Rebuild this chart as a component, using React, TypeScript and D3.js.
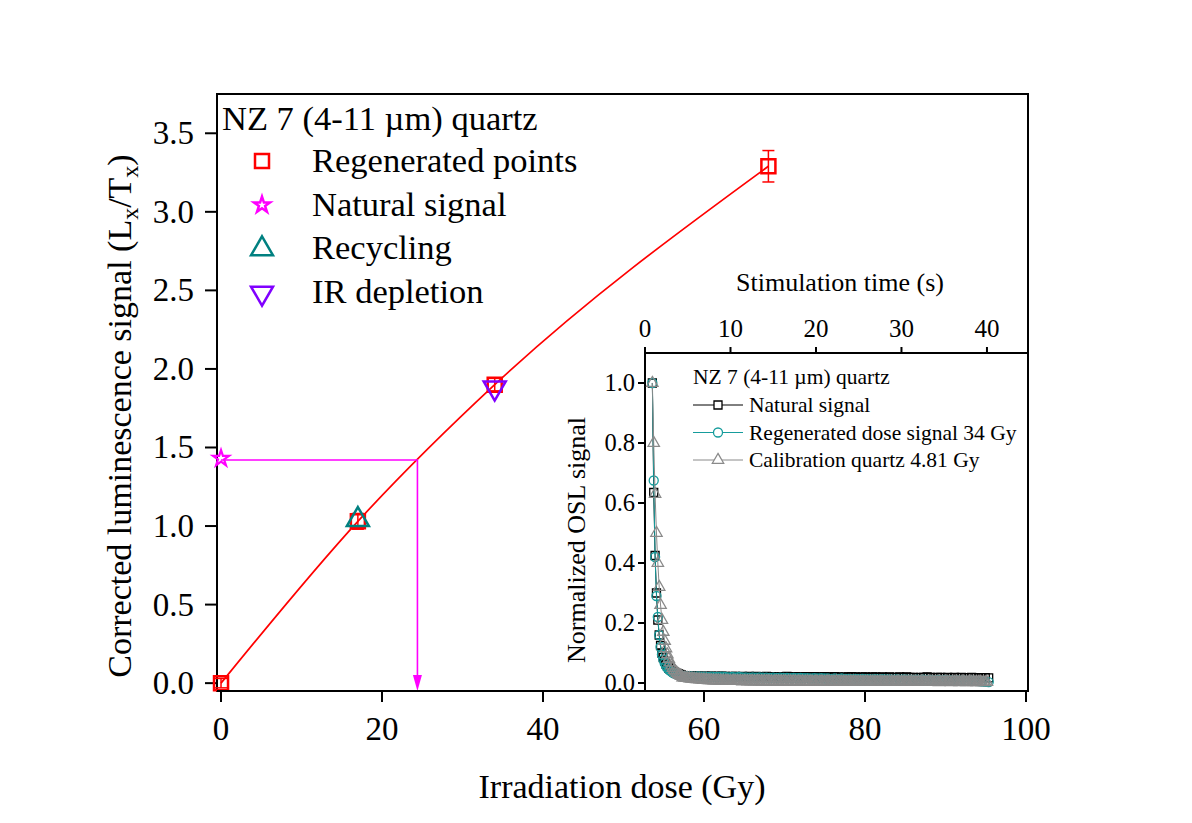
import React from 'react';
import * as d3 from 'd3';

const W = 1192;
const H = 823;
const FONT = '"Liberation Serif", "Times New Roman", serif';

// dose response (main panel)
const regenDose = [0, 17, 34, 68];
const regenSignal = [0, 1.03, 1.9, 3.29];
const regenError = [0.03, 0.05, 0.04, 0.1];
const naturalDose = [0];
const naturalSignal = [1.43];
const recyclingDose = [17];
const recyclingSignal = [1.04];
const irDose = [34];
const irSignal = [1.88];
const equivalentDose = 24.4;
const naturalLevel = 1.42;
const doseTicks = [0, 20, 40, 60, 80, 100];
const signalTicks = [0, 0.5, 1, 1.5, 2, 2.5, 3, 3.5];

// OSL decay curves (inset), first channels every 0.16 s, tails read coarser
const headTime = d3.range(0.86, 4.3, 0.16);
const tailTime = d3.range(4.6, 40.3, 0.4);
const calibTailTime = d3.range(4.4, 40.1, 0.2);
const naturalHead = [1.0, 0.635, 0.425, 0.3, 0.21, 0.16, 0.125, 0.1, 0.085, 0.072, 0.063, 0.056, 0.05, 0.046, 0.042, 0.039, 0.036, 0.034, 0.032, 0.03, 0.029, 0.028];
const regenHead = [1.0, 0.675, 0.42, 0.29, 0.22, 0.16, 0.12, 0.095, 0.078, 0.066, 0.057, 0.05, 0.045, 0.041, 0.037, 0.034, 0.032, 0.03, 0.028, 0.027, 0.026, 0.025];
const calibHead = [1.0, 0.8, 0.63, 0.5, 0.4, 0.32, 0.26, 0.21, 0.17, 0.14, 0.115, 0.095, 0.08, 0.068, 0.058, 0.05, 0.043, 0.038, 0.033, 0.029, 0.026, 0.023];
// tail values in thousandths
const naturalTail = [
  24, 23, 24, 23, 23, 22, 23, 22, 23, 22, 22, 23, 22, 21, 22, 22, 21, 22, 21, 22,
  21, 22, 21, 21, 22, 21, 21, 20, 21, 21, 22, 21, 20, 21, 21, 20, 21, 20, 21, 20,
  20, 21, 20, 20, 21, 20, 19, 20, 20, 21, 20, 19, 20, 20, 19, 20, 20, 19, 20, 19,
  20, 19, 19, 20, 19, 20, 19, 19, 18, 19, 19, 20, 19, 18, 19, 19, 18, 19, 18, 19,
  18, 19, 18, 18, 19, 18, 17, 18, 18, 17,
];
const regenTail = [
  23, 22, 22, 21, 22, 21, 21, 20, 21, 20, 20, 21, 20, 19, 20, 19, 20, 19, 19, 18,
  19, 18, 19, 18, 18, 17, 18, 17, 18, 17, 17, 16, 17, 16, 17, 16, 16, 15, 16, 15,
  16, 15, 15, 14, 15, 14, 15, 14, 14, 13, 14, 13, 14, 13, 13, 12, 13, 12, 13, 12,
  12, 11, 12, 11, 12, 11, 11, 10, 11, 10, 11, 10, 10, 9, 10, 9, 10, 9, 9, 8,
  9, 8, 8, 7, 8, 7, 6, 5, 4, 3,
];
const calibTail = [
  18, 17, 16, 16, 15, 14, 14, 13, 12, 12, 11, 11, 10, 10, 10, 9, 9, 9, 8, 8,
  8, 8, 7, 7, 7, 7, 7, 6, 6, 6, 7, 6, 6, 6, 6, 5, 6, 6, 5, 6,
  5, 6, 5, 5, 6, 5, 5, 5, 6, 5, 5, 5, 5, 4, 5, 5, 5, 5, 4, 5,
  5, 4, 5, 5, 4, 5, 5, 4, 5, 4, 5, 4, 4, 5, 4, 5, 4, 4, 5, 4,
  4, 5, 4, 4, 4, 5, 4, 4, 4, 4, 5, 4, 4, 4, 4, 4, 3, 4, 4, 4,
  4, 4, 3, 4, 4, 4, 3, 4, 4, 3, 4, 4, 3, 4, 3, 4, 4, 3, 4, 3,
  3, 4, 3, 4, 3, 3, 4, 3, 3, 4, 3, 3, 3, 4, 3, 3, 3, 3, 4, 3,
  3, 3, 3, 3, 4, 3, 3, 3, 3, 3, 2, 3, 3, 3, 3, 3, 3, 2, 3, 3,
  3, 3, 2, 3, 3, 3, 2, 3, 3, 3, 2, 3, 2, 3, 3, 2, 3, 2, 3,
];
const timeTicks = [0, 10, 20, 30, 40];
const oslTicks = [0, 0.2, 0.4, 0.6, 0.8, 1.0];

const x = d3.scaleLinear().domain([-0.5, 100.25]).range([217, 1028]);
const y = d3.scaleLinear().domain([-0.05, 3.75]).range([691, 94]);
const tx = d3.scaleLinear().domain([0, 44.8]).range([645, 1028]);
const ty = d3.scaleLinear().domain([-0.0267, 1.1]).range([691, 353]);

const sym = (type: any, size: number) => d3.symbol().type(type).size(size)() as string;
const bigSquare = sym(d3.symbolSquare, 196);
const bigTriangle = sym(d3.symbolTriangle, 210);
const bigStar = sym(d3.symbolStar, 80);
const smSquare = sym(d3.symbolSquare, 64);
const smCircle = sym(d3.symbolCircle, 64);
const smTriangle = sym(d3.symbolTriangle, 56);

const RED = '#ff0000';
const MAGENTA = '#ff00ff';
const TEAL = '#008080';
const VIOLET = '#8000ff';
const INSET_TEAL = '#169c9c';
const GRAY = '#8a8a8a';

const decay = (head: number[], times: number[], tail: number[]) =>
  headTime.map((t, i) => [t, head[i]]).concat(times.map((t, i) => [t, tail[i] / 1000]));

const insetSeries = [
  { name: 'Natural signal', data: decay(naturalHead, tailTime, naturalTail), color: '#000000', marker: smSquare },
  { name: 'Regenerated dose signal 34 Gy', data: decay(regenHead, tailTime, regenTail), color: INSET_TEAL, marker: smCircle },
  { name: 'Calibration quartz 4.81 Gy', data: decay(calibHead, calibTailTime, calibTail), color: GRAY, marker: smTriangle },
];

const mainLegend = [
  { name: 'Regenerated points', path: bigSquare, color: RED, flip: false },
  { name: 'Natural signal', path: bigStar, color: MAGENTA, flip: false },
  { name: 'Recycling', path: bigTriangle, color: TEAL, flip: false },
  { name: 'IR depletion', path: bigTriangle, color: VIOLET, flip: true },
];

const fitLine = d3
  .line<number>()
  .x((d) => x(regenDose[d]))
  .y((d) => y(regenSignal[d]))
  .curve(d3.curveMonotoneX);

const decayLine = d3
  .line<number[]>()
  .x((d) => tx(d[0]))
  .y((d) => ty(d[1]));

export default function App() {
  return (
    <svg
      width={W}
      height={H}
      style={{ position: 'absolute', left: 0, top: 0, background: '#fff' }}
      fontFamily={FONT}
    >
      <rect width={W} height={H} fill="#fff" />

      {/* main frame and axes */}
      <rect x={217} y={94} width={811} height={597} fill="none" stroke="#000" strokeWidth={2} />
      {doseTicks.map((d) => (
        <g key={'xt' + d}>
          <line x1={x(d)} x2={x(d)} y1={691} y2={702} stroke="#000" strokeWidth={2} />
          <text x={x(d)} y={740} fontSize={33} textAnchor="middle">{d}</text>
        </g>
      ))}
      {signalTicks.map((d) => (
        <g key={'yt' + d}>
          <line x1={205} x2={217} y1={y(d)} y2={y(d)} stroke="#000" strokeWidth={2} />
          <text x={194} y={y(d) + 11} fontSize={33} textAnchor="end">{d.toFixed(1)}</text>
        </g>
      ))}
      <text x={622} y={798} fontSize={34} textAnchor="middle">Irradiation dose (Gy)</text>
      <text transform="translate(131,416) rotate(-90)" fontSize={34} textAnchor="middle">
        Corrected luminescence signal (L
        <tspan fontSize={24} dy={7}>x</tspan>
        <tspan dy={-7}>/T</tspan>
        <tspan fontSize={24} dy={7}>x</tspan>
        <tspan dy={-7}>)</tspan>
      </text>

      {/* fit and equivalent dose construction */}
      <path d={fitLine(d3.range(regenDose.length)) as string} fill="none" stroke={RED} strokeWidth={1.7} />
      <polyline
        points={`${x(0)},${y(naturalLevel)} ${x(equivalentDose)},${y(naturalLevel)} ${x(equivalentDose)},676`}
        fill="none"
        stroke={MAGENTA}
        strokeWidth={1.6}
      />
      <polygon
        points={`${x(equivalentDose) - 4.5},675 ${x(equivalentDose) + 4.5},675 ${x(equivalentDose)},691`}
        fill={MAGENTA}
      />

      {regenDose.map((d, i) => (
        <g key={'eb' + i} stroke={RED} strokeWidth={1.5}>
          <line x1={x(d)} x2={x(d)} y1={y(regenSignal[i] - regenError[i])} y2={y(regenSignal[i] + regenError[i])} />
          <line x1={x(d) - 6} x2={x(d) + 6} y1={y(regenSignal[i] - regenError[i])} y2={y(regenSignal[i] - regenError[i])} />
          <line x1={x(d) - 6} x2={x(d) + 6} y1={y(regenSignal[i] + regenError[i])} y2={y(regenSignal[i] + regenError[i])} />
        </g>
      ))}
      {regenDose.map((d, i) => (
        <path key={'rg' + i} d={bigSquare} transform={`translate(${x(d)},${y(regenSignal[i])})`} fill="none" stroke={RED} strokeWidth={2.5} />
      ))}
      {naturalDose.map((d, i) => (
        <path key={'nt' + i} d={bigStar} transform={`translate(${x(d)},${y(naturalSignal[i])})`} fill="none" stroke={MAGENTA} strokeWidth={2.2} />
      ))}
      {recyclingDose.map((d, i) => (
        <path key={'rc' + i} d={bigTriangle} transform={`translate(${x(d)},${y(recyclingSignal[i])})`} fill="none" stroke={TEAL} strokeWidth={2.5} />
      ))}
      {irDose.map((d, i) => (
        <path key={'ir' + i} d={bigTriangle} transform={`translate(${x(d)},${y(irSignal[i])}) rotate(180)`} fill="none" stroke={VIOLET} strokeWidth={2.5} />
      ))}

      {/* main legend */}
      <text x={222} y={130} fontSize={34.5}>NZ 7 (4-11 µm) quartz</text>
      {mainLegend.map((l, i) => (
        <g key={'ml' + i}>
          <path
            d={l.path}
            transform={`translate(262,${161 + i * 44}) ${l.flip ? 'rotate(180)' : ''}`}
            fill="none"
            stroke={l.color}
            strokeWidth={2.5}
          />
          <text x={312} y={172 + i * 43.5} fontSize={34.5}>{l.name}</text>
        </g>
      ))}

      {/* inset */}
      <rect x={645} y={353} width={383} height={338} fill="#fff" />
      <line x1={645} x2={1028} y1={353} y2={353} stroke="#000" strokeWidth={2} />
      <line x1={645} x2={645} y1={353} y2={691} stroke="#000" strokeWidth={2} />
      <line x1={1028} x2={1028} y1={94} y2={691} stroke="#000" strokeWidth={2} />
      <line x1={217} x2={1028} y1={691} y2={691} stroke="#000" strokeWidth={2} />
      {timeTicks.map((d) => (
        <g key={'tt' + d}>
          <line x1={tx(d)} x2={tx(d)} y1={353} y2={347} stroke="#000" strokeWidth={2} />
          <text x={tx(d)} y={337} fontSize={25} textAnchor="middle">{d}</text>
        </g>
      ))}
      {oslTicks.map((d) => (
        <g key={'ot' + d}>
          <line x1={638} x2={645} y1={ty(d)} y2={ty(d)} stroke="#000" strokeWidth={2} />
          <text x={635} y={ty(d) + 8} fontSize={24.5} textAnchor="end">{d.toFixed(1)}</text>
        </g>
      ))}
      <text x={840} y={291} fontSize={26} textAnchor="middle">Stimulation time (s)</text>
      <text transform="translate(585,540) rotate(-90)" fontSize={26} textAnchor="middle">Normalized OSL signal</text>

      {insetSeries.map((s) => (
        <g key={s.name}>
          <path d={decayLine(s.data) as string} fill="none" stroke={s.color} strokeWidth={1} />
          {s.data.map((p, i) => (
            <path key={i} d={s.marker} transform={`translate(${tx(p[0])},${ty(p[1])})`} fill="none" stroke={s.color} strokeWidth={1.3} />
          ))}
        </g>
      ))}

      <text x={693} y={384} fontSize={21.5}>NZ 7 (4-11 µm) quartz</text>
      {insetSeries.map((s, i) => (
        <g key={'il' + i}>
          <line x1={693} x2={743} y1={405 + i * 27.5} y2={405 + i * 27.5} stroke={s.color} strokeWidth={1} />
          <path d={s.marker} transform={`translate(718,${405 + i * 27.5})`} fill="#fff" stroke={s.color} strokeWidth={1.3} />
          <text x={749} y={412 + i * 27.5} fontSize={21.5}>{s.name}</text>
        </g>
      ))}
    </svg>
  );
}
